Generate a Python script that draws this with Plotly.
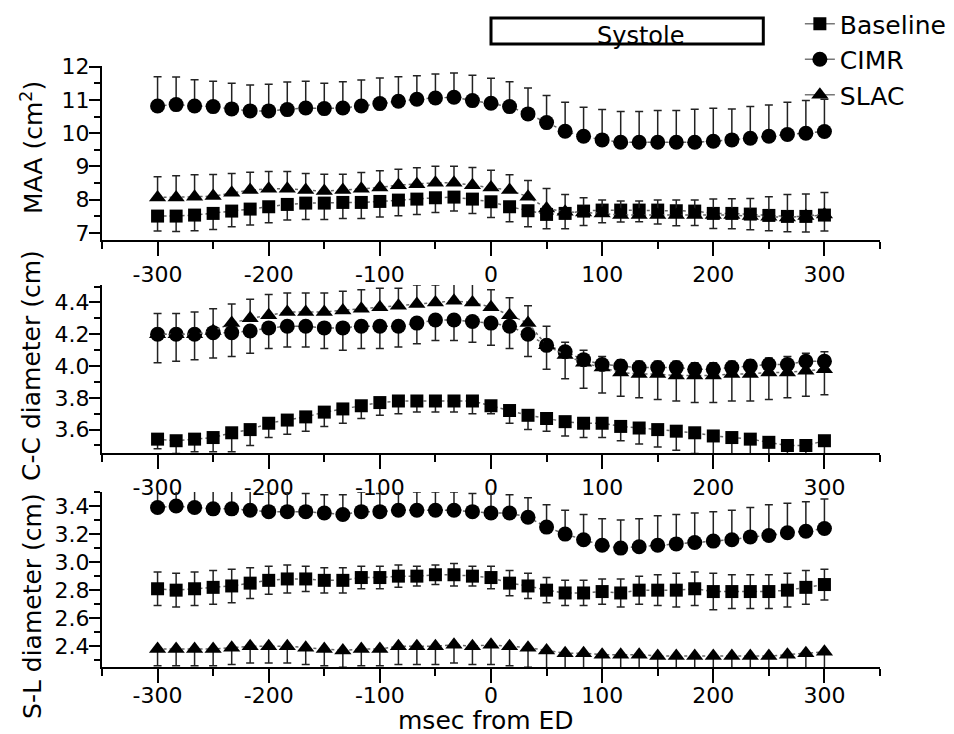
import plotly.graph_objects as go

FONT = "DejaVu Sans"

# ---------------- data ----------------
times = [-300, -283.3, -266.7, -250, -233.3, -216.7, -200, -183.3, -166.7, -150,
         -133.3, -116.7, -100, -83.3, -66.7, -50, -33.3, -16.7, 0, 16.7, 33.3, 50,
         66.7, 83.3, 100, 116.7, 133.3, 150, 166.7, 183.3, 200, 216.7, 233.3, 250,
         266.7, 283.3, 300]

x_tick_vals = [-300, -200, -100, 0, 100, 200, 300]
x_tick_text = ["-300", "-200", "-100", "0", "100", "200", "300"]

# Panel 1: MAA (cm^2)
maa_baseline = [7.51, 7.51, 7.54, 7.59, 7.66, 7.72, 7.79, 7.86, 7.90, 7.90, 7.92, 7.92, 7.95,
                7.99, 8.02, 8.06, 8.08, 8.02, 7.94, 7.79, 7.67, 7.56, 7.59, 7.66, 7.69, 7.69,
                7.69, 7.69, 7.67, 7.66, 7.59, 7.59, 7.57, 7.53, 7.50, 7.50, 7.54]
maa_baseline_err_minus = [0.45, 0.46, 0.47, 0.48, 0.47, 0.48, 0.48, 0.47, 0.49, 0.49, 0.48, 0.48,
                          0.47, 0.47, 0.46, 0.44, 0.42, 0.43, 0.47, 0.45, 0.48, 0.43, 0.46, 0.43,
                          0.38, 0.36, 0.35, 0.42, 0.45, 0.43, 0.45, 0.46, 0.47, 0.46, 0.46, 0.47, 0.48]
maa_cimr = [10.82, 10.86, 10.82, 10.80, 10.73, 10.67, 10.67, 10.71, 10.76, 10.74, 10.76, 10.82,
            10.89, 10.96, 11.02, 11.06, 11.08, 10.98, 10.90, 10.80, 10.58, 10.32, 10.06, 9.91,
            9.80, 9.73, 9.73, 9.73, 9.73, 9.73, 9.76, 9.80, 9.85, 9.91, 9.96, 10.00, 10.05]
maa_cimr_err_plus = [0.88, 0.83, 0.79, 0.76, 0.77, 0.78, 0.80, 0.83, 0.80, 0.76, 0.79, 0.78, 0.77,
                     0.74, 0.71, 0.72, 0.73, 0.76, 0.75, 0.75, 0.78, 0.81, 0.87, 0.87, 0.91, 0.92,
                     0.92, 0.95, 0.95, 0.99, 0.99, 0.93, 0.95, 0.94, 0.97, 0.98, 0.97]
maa_slac = [8.07, 8.07, 8.09, 8.11, 8.21, 8.29, 8.33, 8.33, 8.29, 8.26, 8.29, 8.33, 8.37, 8.44,
            8.47, 8.51, 8.51, 8.44, 8.37, 8.29, 8.09, 7.74, 7.64, 7.62, 7.59, 7.54, 7.54, 7.54,
            7.54, 7.54, 7.54, 7.54, 7.51, 7.49, 7.47, 7.51, 7.56]
maa_slac_err_plus = [0.62, 0.65, 0.66, 0.65, 0.58, 0.54, 0.52, 0.52, 0.50, 0.51, 0.48, 0.49, 0.50,
                     0.48, 0.49, 0.50, 0.50, 0.53, 0.52, 0.46, 0.49, 0.60, 0.52, 0.44, 0.40, 0.42,
                     0.42, 0.45, 0.45, 0.45, 0.48, 0.49, 0.53, 0.60, 0.69, 0.66, 0.66]

# Panel 2: C-C diameter (cm)
cc_baseline = [3.54, 3.53, 3.54, 3.55, 3.58, 3.60, 3.64, 3.66, 3.68, 3.71, 3.73, 3.75, 3.77,
               3.78, 3.78, 3.78, 3.78, 3.78, 3.75, 3.72, 3.69, 3.67, 3.65, 3.64, 3.64, 3.62,
               3.61, 3.60, 3.59, 3.58, 3.56, 3.55, 3.54, 3.52, 3.50, 3.50, 3.53]
cc_baseline_err_minus = [0.06, 0.08, 0.08, 0.09, 0.12, 0.10, 0.09, 0.09, 0.09, 0.09, 0.09, 0.08,
                         0.08, 0.08, 0.07, 0.07, 0.07, 0.08, 0.05, 0.08, 0.09, 0.08, 0.09, 0.09,
                         0.09, 0.09, 0.10, 0.11, 0.12, 0.13, 0.13, 0.12, 0.12, 0.12, 0.10, 0.10, 0.10]
cc_cimr = [4.20, 4.20, 4.20, 4.21, 4.21, 4.22, 4.24, 4.25, 4.25, 4.24, 4.24, 4.25, 4.25, 4.25,
           4.27, 4.29, 4.29, 4.28, 4.27, 4.25, 4.20, 4.13, 4.09, 4.04, 4.01, 4.00, 3.99, 3.99,
           3.99, 3.98, 3.98, 3.99, 4.00, 4.01, 4.01, 4.03, 4.03]
cc_cimr_err_plus = [0, 0, 0, 0, 0, 0, 0, 0, 0, 0, 0, 0, 0, 0, 0, 0, 0, 0, 0, 0, 0, 0,
                    0.06, 0.06, 0.05, 0.04, 0.04, 0.04, 0.04, 0.04, 0.04, 0.04, 0.04, 0.04,
                    0.05, 0.05, 0.06]
cc_cimr_err_minus = [0.18, 0.17, 0.16, 0.16, 0.15, 0.14, 0.13, 0.13, 0.13, 0.13, 0.14, 0.14,
                     0.14, 0.13, 0.13, 0.13, 0.13, 0.13, 0.14, 0.14, 0.14, 0.15,
                     0, 0, 0, 0, 0, 0, 0, 0, 0, 0, 0, 0, 0, 0, 0]
cc_slac = [4.20, 4.20, 4.20, 4.22, 4.27, 4.30, 4.32, 4.34, 4.34, 4.34, 4.35, 4.36, 4.37, 4.38,
           4.39, 4.40, 4.41, 4.40, 4.37, 4.32, 4.27, 4.13, 4.07, 4.02, 3.99, 3.96, 3.95, 3.95,
           3.94, 3.94, 3.94, 3.95, 3.95, 3.96, 3.96, 3.97, 3.98]
cc_slac_err_plus = [0.13, 0.13, 0.14, 0.14, 0.12, 0.12, 0.13, 0.12, 0.12, 0.12, 0.12, 0.12, 0.12,
                    0.11, 0.12, 0.11, 0.12, 0.12, 0.11, 0.11, 0.11, 0.12,
                    0, 0, 0, 0, 0, 0, 0, 0, 0, 0, 0, 0, 0, 0, 0]
cc_slac_err_minus = [0, 0, 0, 0, 0, 0, 0, 0, 0, 0, 0, 0, 0, 0, 0, 0, 0, 0, 0, 0, 0, 0,
                     0.15, 0.16, 0.16, 0.15, 0.15, 0.16, 0.16, 0.17, 0.17, 0.17, 0.17, 0.17,
                     0.16, 0.16, 0.16]

# Panel 3: S-L diameter (cm)
sl_baseline = [2.81, 2.80, 2.81, 2.82, 2.83, 2.85, 2.87, 2.88, 2.88, 2.87, 2.87, 2.89, 2.89,
               2.90, 2.90, 2.91, 2.91, 2.90, 2.89, 2.85, 2.83, 2.80, 2.78, 2.78, 2.79, 2.78,
               2.80, 2.80, 2.80, 2.81, 2.79, 2.79, 2.79, 2.79, 2.80, 2.82, 2.84]
sl_baseline_err = [0.12, 0.12, 0.12, 0.12, 0.12, 0.11, 0.10, 0.10, 0.09, 0.09, 0.09, 0.08, 0.08,
                   0.08, 0.07, 0.07, 0.08, 0.07, 0.08, 0.09, 0.09, 0.09, 0.09, 0.09, 0.09, 0.10,
                   0.10, 0.11, 0.12, 0.12, 0.13, 0.12, 0.12, 0.12, 0.12, 0.12, 0.11]
sl_cimr = [3.39, 3.40, 3.39, 3.38, 3.38, 3.37, 3.36, 3.36, 3.36, 3.35, 3.34, 3.36, 3.36, 3.37,
           3.37, 3.37, 3.37, 3.36, 3.35, 3.35, 3.32, 3.25, 3.20, 3.16, 3.12, 3.10, 3.11, 3.12,
           3.13, 3.14, 3.15, 3.16, 3.18, 3.19, 3.21, 3.22, 3.24]
sl_cimr_err_plus = [0.15, 0.15, 0.15, 0.15, 0.15, 0.15, 0.14, 0.14, 0.13, 0.13, 0.14, 0.14, 0.13,
                    0.13, 0.13, 0.13, 0.13, 0.13, 0.14, 0.13, 0.14, 0.16, 0.17, 0.18, 0.19, 0.20,
                    0.20, 0.21, 0.21, 0.21, 0.21, 0.21, 0.21, 0.22, 0.21, 0.21, 0.21]
sl_slac = [2.38, 2.38, 2.38, 2.38, 2.39, 2.40, 2.40, 2.40, 2.39, 2.38, 2.37, 2.38, 2.38, 2.40,
           2.40, 2.40, 2.41, 2.40, 2.41, 2.40, 2.39, 2.37, 2.35, 2.35, 2.34, 2.34, 2.34, 2.33,
           2.33, 2.33, 2.33, 2.33, 2.33, 2.33, 2.34, 2.35, 2.36]
sl_slac_err_minus = [0.12, 0.12, 0.12, 0.12, 0.12, 0.12, 0.12, 0.12, 0.12, 0.12, 0.12, 0.12, 0.12,
                     0.13, 0.13, 0.13, 0.13, 0.13, 0.14, 0.14, 0.14, 0.14, 0.13, 0.13, 0.13, 0.13,
                     0.13, 0.13, 0.13, 0.13, 0.13, 0.13, 0.13, 0.13, 0.13, 0.13, 0.13]

series_names = ["Baseline", "CIMR", "SLAC"]
zeros = [0] * len(times)

# ---------------- styling ----------------
SYM = {"Baseline": "square", "CIMR": "circle", "SLAC": "triangle-up"}
SIZE = {"Baseline": 13, "CIMR": 15, "SLAC": 15}
ERR = dict(type="data", symmetric=False, color="#222222", thickness=1.5, width=4)

fig = go.Figure()


def add(name, y, plus, minus, xa, ya):
    fig.add_trace(go.Scatter(
        x=times, y=y, mode="lines+markers", name=name, showlegend=False,
        xaxis=xa, yaxis=ya,
        line=dict(color="#666666", width=1.5, dash="dot"),
        marker=dict(symbol=SYM[name], size=SIZE[name], color="black"),
        error_y=dict(ERR, array=plus, arrayminus=minus),
    ))


# panel 1
add("Baseline", maa_baseline, zeros, maa_baseline_err_minus, "x", "y")
add("SLAC", maa_slac, maa_slac_err_plus, zeros, "x", "y")
add("CIMR", maa_cimr, maa_cimr_err_plus, zeros, "x", "y")
# panel 2
add("Baseline", cc_baseline, zeros, cc_baseline_err_minus, "x2", "y2")
add("CIMR", cc_cimr, cc_cimr_err_plus, cc_cimr_err_minus, "x2", "y2")
add("SLAC", cc_slac, cc_slac_err_plus, cc_slac_err_minus, "x2", "y2")
# panel 3
add("Baseline", sl_baseline, sl_baseline_err, sl_baseline_err, "x3", "y3")
add("CIMR", sl_cimr, sl_cimr_err_plus, zeros, "x3", "y3")
add("SLAC", sl_slac, zeros, sl_slac_err_minus, "x3", "y3")

# legend entries
for name in series_names:
    fig.add_trace(go.Scatter(
        x=[None], y=[None], mode="lines+markers", name=name, showlegend=True,
        line=dict(color="#777777", width=1.5),
        marker=dict(symbol=SYM[name], size=SIZE[name], color="black"),
    ))

tickfont = dict(family=FONT, size=22, color="black")


def xaxis(anchor, standoff=0):
    return dict(
        domain=[0, 1], anchor=anchor, range=[-350, 350],
        tickmode="array", tickvals=x_tick_vals, ticktext=x_tick_text,
        ticks="outside", ticklen=14, tickwidth=2, tickcolor="black",
        ticklabelstandoff=standoff,
        showline=True, linewidth=2, linecolor="black",
        showgrid=False, zeroline=False, tickfont=tickfont,
        minor=dict(dtick=50, tick0=0, ticks="outside", ticklen=7, tickwidth=2, tickcolor="black",
                   showgrid=False),
    )


def yaxis(anchor, domain, rng, tv, tt, mdt):
    return dict(
        domain=domain, anchor=anchor, range=rng,
        tickmode="array", tickvals=tv, ticktext=tt,
        ticks="outside", ticklen=11, tickwidth=2, tickcolor="black",
        ticklabelstandoff=-5,
        showline=True, linewidth=2, linecolor="black",
        showgrid=False, zeroline=False, tickfont=tickfont,
        minor=dict(dtick=mdt, tick0=0, ticks="outside", ticklen=6, tickwidth=2, tickcolor="black",
                   showgrid=False),
    )


y1_ticks = [7, 8, 9, 10, 11, 12]
y2_ticks = [3.6, 3.8, 4.0, 4.2, 4.4]
y3_ticks = [2.4, 2.6, 2.8, 3.0, 3.2, 3.4]

# The page body adds an 8px offset, so the figure starts 8px in from the window's corner.
fig.update_layout(
    width=946, height=726,
    paper_bgcolor="white", plot_bgcolor="white",
    margin=dict(l=94, r=74, t=0, b=0, autoexpand=False),
    font=dict(family=FONT, color="black"),
    xaxis=xaxis("y"),
    xaxis2=xaxis("y2"),
    xaxis3=xaxis("y3", standoff=-6),
    yaxis=yaxis("x", [0.6804, 0.9201], [6.79, 12.02], y1_ticks, [str(v) for v in y1_ticks], 0.5),
    yaxis2=yaxis("x2", [0.3871, 0.6185], [3.453, 4.51], y2_ticks, [f"{v:.1f}" for v in y2_ticks], 0.1),
    yaxis3=yaxis("x3", [0.0923, 0.3333], [2.252, 3.50], y3_ticks, [f"{v:.1f}" for v in y3_ticks], 0.1),
    legend=dict(x=0.897, y=1.0096, xanchor="left", yanchor="top",
                font=dict(family=FONT, size=25, color="black"),
                bgcolor="rgba(0,0,0,0)", tracegroupgap=0),
    showlegend=True,
)

# Systole bar
fig.add_shape(type="rect", xref="x", yref="paper", x0=0, x1=245, y0=0.9504, y1=0.9862,
              line=dict(color="black", width=3), fillcolor="white", layer="above")

annotations = [
    dict(text="Systole", xref="x", yref="paper", x=134.5, y=0.9614, xanchor="center",
         yanchor="middle", showarrow=False, font=dict(family=FONT, size=24, color="black")),
    dict(text="MAA (cm<sup>2</sup>)", xref="paper", yref="paper", x=-0.09, y=0.8085,
         xanchor="center", yanchor="middle",
         textangle=-90, showarrow=False, font=dict(family=FONT, size=25, color="black")),
    dict(text="C-C diameter (cm)", xref="paper", yref="paper", x=-0.09, y=0.5083,
         xanchor="center", yanchor="middle",
         textangle=-90, showarrow=False, font=dict(family=FONT, size=25, color="black")),
    dict(text="S-L diameter (cm)", xref="paper", yref="paper", x=-0.09, y=0.1763,
         xanchor="center", yanchor="middle",
         textangle=-90, showarrow=False, font=dict(family=FONT, size=25, color="black")),
    dict(text="msec from ED", xref="paper", yref="paper", x=0.4936, y=0.0180,
         xanchor="center", yanchor="middle",
         showarrow=False, font=dict(family=FONT, size=25, color="black")),
]
fig.update_layout(annotations=annotations)

fig.write_html("out.html")
